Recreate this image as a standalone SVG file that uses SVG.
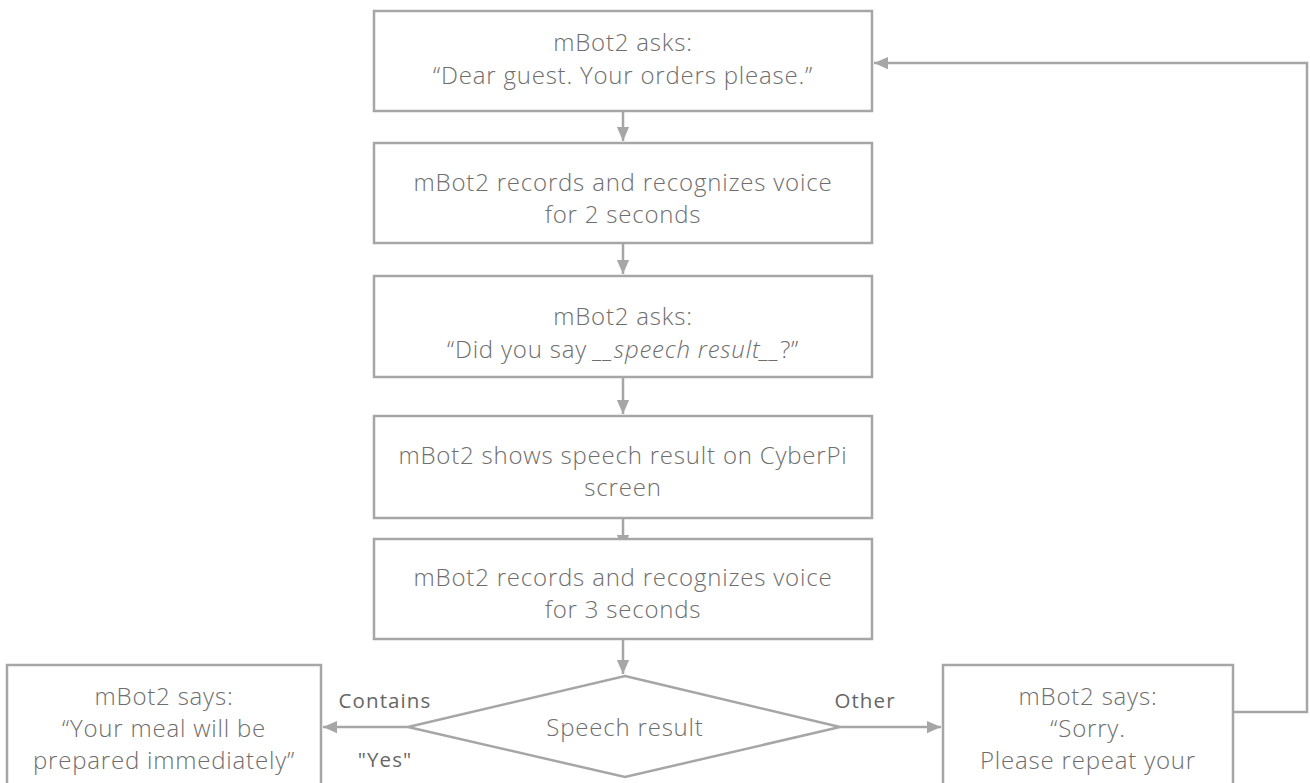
<svg xmlns="http://www.w3.org/2000/svg" width="1310" height="783" viewBox="0 0 1310 783">
<defs>
<style>
.box{fill:#fff;stroke:#a6a6a6;stroke-width:2.5}
.t{font-family:"Open Sans","Liberation Sans",sans-serif;font-weight:300;font-size:24px;letter-spacing:0.8px;fill:#6e6e6e;text-anchor:middle}
.lbl{font-family:"Open Sans","Liberation Sans",sans-serif;font-weight:400;font-size:20.5px;letter-spacing:1.1px;fill:#666;text-anchor:middle}
.c{fill:none;stroke:#a6a6a6;stroke-width:2.5}
</style>
<marker id="ah" markerWidth="14" markerHeight="14" viewBox="0 0 16 14" refX="16" refY="7" orient="auto" markerUnits="userSpaceOnUse">
<path d="M0,0 L16,7 L0,14 Z" fill="#a6a6a6"/>
</marker>
</defs>
<rect width="1310" height="783" fill="#fff"/>
<g id="connectors">
<line class="c" x1="623" y1="112" x2="623" y2="141" marker-end="url(#ah)"/>
<line class="c" x1="623" y1="244" x2="623" y2="274" marker-end="url(#ah)"/>
<line class="c" x1="623" y1="378" x2="623" y2="414" marker-end="url(#ah)"/>
<line class="c" x1="623" y1="519" x2="623" y2="549" marker-end="url(#ah)"/>
<line class="c" x1="623" y1="640" x2="623" y2="674" marker-end="url(#ah)"/>
<line class="c" x1="408" y1="727" x2="323" y2="727" marker-end="url(#ah)"/>
<line class="c" x1="840" y1="727" x2="941" y2="727" marker-end="url(#ah)"/>
<polyline class="c" points="1234,712 1307,712 1307,63 874,63" marker-end="url(#ah)"/>
<text class="lbl" x="385" y="708">Contains</text>
<text class="lbl" x="385" y="767">"Yes"</text>
<text class="lbl" x="865" y="708">Other</text>
</g>
<g id="n1">
<rect class="box" x="374" y="11" width="498" height="100"/>
<text class="t" x="623" y="51">mBot2 asks:</text>
<text class="t" x="623" y="84">“Dear guest. Your orders please.”</text>
</g>
<g id="n2">
<rect class="box" x="374" y="143" width="498" height="100"/>
<text class="t" x="623" y="191">mBot2 records and recognizes voice</text>
<text class="t" x="623" y="223">for 2 seconds</text>
</g>
<g id="n3">
<rect class="box" x="374" y="276" width="498" height="101"/>
<text class="t" x="623" y="325">mBot2 asks:</text>
<text class="t" x="623" y="358">“Did you say <tspan font-style="italic">__speech result__</tspan>?”</text>
</g>
<g id="n4">
<rect class="box" x="374" y="416" width="498" height="102"/>
<text class="t" x="623" y="464">mBot2 shows speech result on CyberPi</text>
<text class="t" x="623" y="496">screen</text>
</g>
<g id="n5">
<rect class="box" x="374" y="539" width="498" height="100"/>
<text class="t" x="623" y="586">mBot2 records and recognizes voice</text>
<text class="t" x="623" y="618">for 3 seconds</text>
</g>
<g id="n6">
<polygon class="box" points="625,676 840,727 625,777 408,727"/>
<text class="t" x="625" y="736">Speech result</text>
</g>
<g id="n7">
<rect class="box" x="7" y="665" width="314" height="130"/>
<text class="t" x="164" y="705">mBot2 says:</text>
<text class="t" x="164" y="737">“Your meal will be</text>
<text class="t" x="164" y="769">prepared immediately”</text>
</g>
<g id="n8">
<rect class="box" x="943" y="665" width="290" height="130"/>
<text class="t" x="1088" y="705">mBot2 says:</text>
<text class="t" x="1088" y="737">“Sorry.</text>
<text class="t" x="1088" y="769">Please repeat your</text>
</g>
</svg>
